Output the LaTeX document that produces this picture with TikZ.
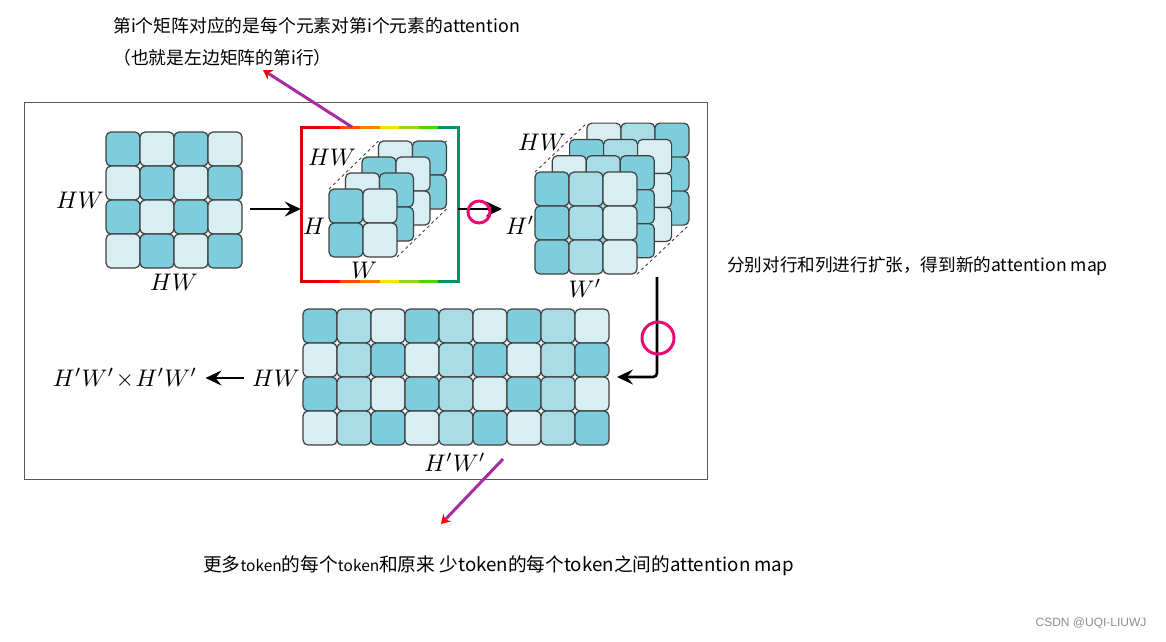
\documentclass[tikz,border=0pt]{standalone}
\usepackage{fontspec}
\usetikzlibrary{arrows.meta}
\newfontfamily\cjk{Noto Sans CJK SC}
\newfontfamily\wmfont{Liberation Sans}
\definecolor{cD}{RGB}{126,205,221}
\definecolor{cM}{RGB}{168,220,230}
\definecolor{cL}{RGB}{215,238,243}
\definecolor{pen}{RGB}{165,45,160}
\definecolor{rbgreen}{RGB}{0,150,95}
\newcommand{\tone}[1]{\ifcase#1 cD\or cM\or cL\fi}

\begin{document}
\begin{tikzpicture}[x=1pt, y=-1pt,
  cell/.style={draw=black!75, line width=1.2pt, rounded corners=5pt, minimum size=34pt, inner sep=0pt},
  arr/.style={-{Stealth[length=16pt, width=15pt, inset=6pt]}, line width=2.6pt},
  lbl/.style={scale=2.4},
  hidden/.style={dashed, black!75, line width=0.9pt},
  ring/.style={circle, draw=magenta!75!red, line width=3pt, inner sep=0pt},
  scrawl/.style={-{Stealth[color=red, length=9pt, width=11pt]}, line width=3pt, pen},
  note/.style={font=\cjk\fontsize{17.8}{20}\selectfont, anchor=west, inner sep=0pt}
]
\useasboundingbox (0,0) rectangle (1166,641);

% paper frame
\draw[black!65, line width=0.8pt] (24,102) rectangle (707,479);

% HW x HW matrix
\foreach \i in {0,...,3}
  \foreach \j in {0,...,3}{
    \pgfmathtruncatemacro\p{2*mod(\i+\j,2)}
    \edef\fc{\tone{\p}}
    \node[cell, fill=\fc] (a-\i-\j) at ({123+34*\j},{149+34*\i}) {};
  }
\node[lbl] (hw1) at (80,200) {$HW$};
\node[lbl] (hw2) at (174,282) {$HW$};

% reshaped cube, highlighted
\node[minimum width=157pt, minimum height=154pt, inner sep=0pt] (sel) at (379.5,204) {};
\draw[red!85!black, line width=3pt, line cap=rect] (301,127) -- (301,281);
\foreach \c [count=\n from 0] in {red!85!black, red, orange!60!red, orange, yellow!85!orange, yellow!60!green, green!70!yellow!85!black, rbgreen}{
  \draw[\c, line width=3pt] ({301+19.625*\n},127) -- ({301+19.625*(\n+1)},127);
  \draw[\c, line width=3pt] ({301+19.625*\n},281) -- ({301+19.625*(\n+1)},281);
}
\draw[rbgreen, line width=3pt, line cap=rect] (458,127) -- (458,281);

\foreach \u/\v in {329/189, 397/189, 397/257}
  \draw[hidden] (\u,\v) -- ++(49.5,-48);
\foreach \k in {3,2,1,0}
  \foreach \i in {0,1}
    \foreach \j in {0,1}{
      \pgfmathtruncatemacro\p{2*mod(\j+\k,2)}
      \edef\fc{\tone{\p}}
      \node[cell, fill=\fc] (c-\k-\i-\j) at ({346+34*\j+16.5*\k},{206+34*\i-16*\k}) {};
    }
\node[lbl] (hw3) at (332,157) {$HW$};
\node[lbl] (h1) at (314,226) {$H$};
\node[lbl] (w1) at (364,270) {$W$};

% expanded tensor
\foreach \u/\v in {535/172, 637/172, 637/274}
  \draw[hidden] (\u,\v) -- ++(52,-49);
\foreach \k in {3,2,1,0}
  \foreach \i in {0,1,2}
    \foreach \j in {0,1,2}{
      \pgfmathtruncatemacro\p{\j+mod(\k,2)*(2-2*\j)}
      \edef\fc{\tone{\p}}
      \node[cell, fill=\fc] (e-\k-\i-\j) at ({552+34*\j+17.3*\k},{189+34*\i-16.3*\k}) {};
    }
\node[lbl] (hw4) at (542,142) {$HW$};
\node[lbl] (h2) at (520,225) {$H'$};
\node[lbl] (w2) at (585,288) {$W'$};

% HW x H'W' matrix
\foreach \i in {0,...,3}
  \foreach \j in {0,...,8}{
    \pgfmathtruncatemacro\p{mod(\j,3)+mod(\i,2)*(2-2*mod(\j,3))}
    \edef\fc{\tone{\p}}
    \node[cell, fill=\fc] (b-\i-\j) at ({320+34*\j},{326+34*\i}) {};
  }
\node[lbl] (hw5) at (276,378) {$HW$};
\node[lbl] (hw6) at (455,462) {$H'W'$};
\node[lbl] (res) at (125,378) {$H'W'\!\times\! H'W'$};

% arrows
\coordinate (a-out) at (250,209);
\coordinate (e-in) at (502,209);
\coordinate (e-out) at (657,277);
\coordinate (b-in) at (617,377);
\draw[arr] (a-out) -- (a-out -| sel.west);
\draw[arr] (sel.east |- e-in) -- (e-in);
\draw[arr, rounded corners=4pt] (e-out) |- (b-in);
\draw[arr] (hw5) -- (res);
\node[ring, minimum size=22pt] (ring1) at (479,212) {};
\node[ring, minimum size=32pt] (ring2) at (658,338) {};

% notes
\node[note] (t1) at (113,26) {第i个矩阵对应的是每个元素对第i个元素的attention};
\node[note] (t2) at (113,58) {（也就是左边矩阵的第i行）};
\node[note, font=\cjk\fontsize{17.6}{20}\selectfont] (t3) at (727,266) {分别对行和列进行扩张，得到新的attention map};
\node[note, font=\cjk\fontsize{18.7}{20}\selectfont] (t4) at (203,566) {更多{\fontsize{15.5}{18}\selectfont token}的每个{\fontsize{15.5}{18}\selectfont token}和原来 少token的每个token之间的attention map};
\coordinate (q1) at (352,127);
\coordinate (q2) at (263,70);
\coordinate (q3) at (503,459);
\coordinate (q4) at (441,524);
\draw[scrawl] (q1) -- (q2);
\draw[scrawl] (q3) -- (q4);

\node[font=\wmfont\fontsize{12}{14}\selectfont, text=black!45] (wm) at (1091,623) {CSDN @UQI-LIUWJ};
\end{tikzpicture}
\end{document}
